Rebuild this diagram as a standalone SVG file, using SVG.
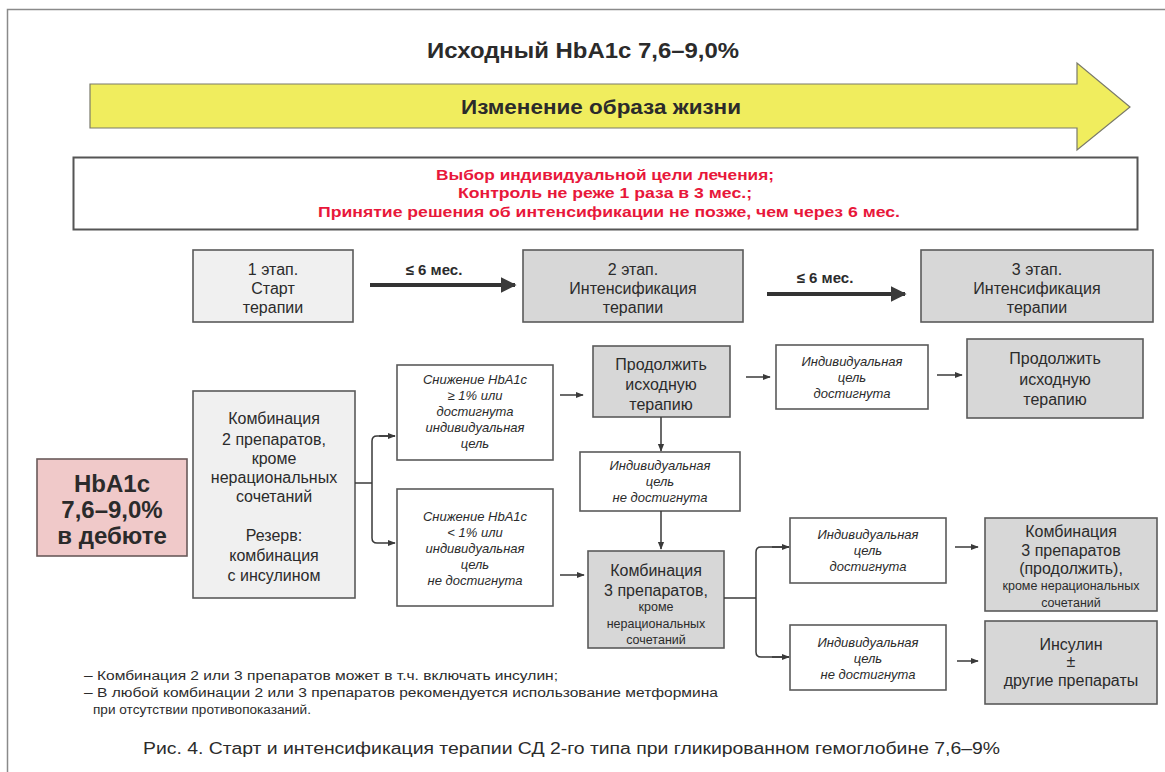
<svg xmlns="http://www.w3.org/2000/svg" width="1165" height="772" viewBox="0 0 1165 772">
<defs>
<marker id="ah" viewBox="0 0 10 10" refX="9" refY="5" markerWidth="8" markerHeight="8" markerUnits="userSpaceOnUse" orient="auto"><path d="M0,1 L10,5 L0,9 z" fill="#3a3a3a"/></marker>
<marker id="ahb" viewBox="0 0 10 10" refX="9" refY="5" markerWidth="4" markerHeight="4" orient="auto"><path d="M0,0 L10,5 L0,10 z" fill="#3a3a3a"/></marker>
</defs>
<style>
text{font-family:"Liberation Sans Narrow","Liberation Sans",Arial,sans-serif;fill:#2b2b2b;text-anchor:middle}
.b{stroke:#5a5a5a;stroke-width:1.6}
.w{fill:#ffffff}
.l{fill:#f0f0f0}
.g{fill:#d7d7d7}
.n{font-size:16px}
.i{font-size:13px;font-style:italic}
.s{font-size:12.5px}
.bd{font-weight:bold}
.red{fill:#e8173a;font-weight:bold;font-size:14px}
.c{fill:none;stroke:#3a3a3a;stroke-width:1.5}
.f{font-size:12.5px;text-anchor:start}
</style>
<rect x="0" y="0" width="1165" height="772" fill="#ffffff"/>
<rect x="7.5" y="9.5" width="1170" height="780" fill="none" stroke="#8a8a8a" stroke-width="1.5"/>

<g id="title"><text x="583" y="58" class="bd" font-size="22" textLength="312" lengthAdjust="spacingAndGlyphs">Исходный HbA1c 7,6–9,0%</text></g>

<g id="lifestyle">
<path d="M90,84 L1077,84 L1077,63 L1130,107 L1077,150 L1077,128 L90,128 Z" fill="#f0ed5e" stroke="#7a7a6a" stroke-width="1.2"/>
<text x="601" y="114" class="bd" font-size="20" textLength="280" lengthAdjust="spacingAndGlyphs">Изменение образа жизни</text>
</g>

<g id="goals">
<rect x="73.5" y="157.5" width="1064" height="72" fill="#ffffff" stroke="#555" stroke-width="2"/>
<text x="605" y="180" class="red" textLength="338" lengthAdjust="spacingAndGlyphs">Выбор индивидуальной цели лечения;</text>
<text x="605" y="198" class="red" textLength="294" lengthAdjust="spacingAndGlyphs">Контроль не реже 1 раза в 3 мес.;</text>
<text x="609" y="217" class="red" textLength="582" lengthAdjust="spacingAndGlyphs">Принятие решения об интенсификации не позже, чем через 6 мес.</text>
</g>

<g id="stage1">
<rect x="193" y="250" width="160" height="72" class="b l"/>
<text x="273" y="275" class="n">1 этап.</text>
<text x="273" y="294" class="n">Старт</text>
<text x="273" y="313" class="n">терапии</text>
</g>
<g id="stage2">
<rect x="523" y="250" width="220" height="72" class="b g"/>
<text x="633" y="275" class="n">2 этап.</text>
<text x="633" y="294" class="n">Интенсификация</text>
<text x="633" y="313" class="n">терапии</text>
</g>
<g id="stage3">
<rect x="921" y="250" width="232" height="72" class="b g"/>
<text x="1037" y="275" class="n">3 этап.</text>
<text x="1037" y="294" class="n">Интенсификация</text>
<text x="1037" y="313" class="n">терапии</text>
</g>

<g id="hba1c">
<rect x="37" y="459" width="150" height="97" fill="#f0c9c9" stroke="#6a5a5a" stroke-width="1.6"/>
<text x="112" y="492" class="bd" font-size="24">HbA1c</text>
<text x="112" y="518" class="bd" font-size="24">7,6–9,0%</text>
<text x="112" y="544" class="bd" font-size="24">в дебюте</text>
</g>

<g id="combo2">
<rect x="193" y="391" width="162" height="207" class="b l"/>
<text x="274" y="424" class="n">Комбинация</text>
<text x="274" y="445" class="n">2 препаратов,</text>
<text x="274" y="464" class="n">кроме</text>
<text x="274" y="483" class="n">нерациональных</text>
<text x="274" y="502" class="n">сочетаний</text>
<text x="274" y="541" class="n">Резерв:</text>
<text x="274" y="561" class="n">комбинация</text>
<text x="274" y="581" class="n">с инсулином</text>
</g>

<g id="dec1">
<rect x="397" y="365" width="156" height="95" class="b w"/>
<text x="475" y="384" class="i">Снижение HbA1c</text>
<text x="475" y="400" class="i">≥ 1% или</text>
<text x="475" y="416" class="i">достигнута</text>
<text x="475" y="432" class="i">индивидуальная</text>
<text x="475" y="448" class="i">цель</text>
</g>
<g id="dec2">
<rect x="397" y="489" width="156" height="117" class="b w"/>
<text x="475" y="521" class="i">Снижение HbA1c</text>
<text x="475" y="537" class="i">&lt; 1% или</text>
<text x="475" y="553" class="i">индивидуальная</text>
<text x="475" y="569" class="i">цель</text>
<text x="475" y="585" class="i">не достигнута</text>
</g>

<g id="cont1">
<rect x="593" y="346" width="137" height="71" class="b g"/>
<text x="661" y="370" class="n">Продолжить</text>
<text x="661" y="390" class="n">исходную</text>
<text x="661" y="410" class="n">терапию</text>
</g>
<g id="notreached1">
<rect x="580" y="452" width="160" height="59" class="b w"/>
<text x="660" y="470" class="i">Индивидуальная</text>
<text x="660" y="486" class="i">цель</text>
<text x="660" y="502" class="i">не достигнута</text>
</g>
<g id="combo3">
<rect x="588" y="551" width="136" height="97" class="b g"/>
<text x="656" y="576" class="n">Комбинация</text>
<text x="656" y="596" class="n">3 препаратов,</text>
<text x="656" y="611" class="s">кроме</text>
<text x="656" y="628" class="s">нерациональных</text>
<text x="656" y="644" class="s">сочетаний</text>
</g>

<g id="reached2">
<rect x="776" y="345" width="152" height="64" class="b w"/>
<text x="852" y="366" class="i">Индивидуальная</text>
<text x="852" y="382" class="i">цель</text>
<text x="852" y="398" class="i">достигнута</text>
</g>
<g id="cont2">
<rect x="967" y="339" width="176" height="79" class="b g"/>
<text x="1055" y="364" class="n">Продолжить</text>
<text x="1055" y="385" class="n">исходную</text>
<text x="1055" y="405" class="n">терапию</text>
</g>

<g id="reached3">
<rect x="790" y="518" width="156" height="65" class="b w"/>
<text x="868" y="539" class="i">Индивидуальная</text>
<text x="868" y="555" class="i">цель</text>
<text x="868" y="571" class="i">достигнута</text>
</g>
<g id="notreached3">
<rect x="790" y="625" width="156" height="65" class="b w"/>
<text x="868" y="647" class="i">Индивидуальная</text>
<text x="868" y="663" class="i">цель</text>
<text x="868" y="679" class="i">не достигнута</text>
</g>
<g id="combo3cont">
<rect x="985" y="518" width="172" height="93" class="b g"/>
<text x="1071" y="537" class="n">Комбинация</text>
<text x="1071" y="556" class="n">3 препаратов</text>
<text x="1071" y="574" class="n">(продолжить),</text>
<text x="1071" y="590" class="s">кроме нерациональных</text>
<text x="1071" y="607" class="s">сочетаний</text>
</g>
<g id="insulin">
<rect x="985" y="621" width="172" height="83" class="b g"/>
<text x="1071" y="650" class="n">Инсулин</text>
<text x="1071" y="667" class="n">±</text>
<text x="1071" y="686" class="n">другие препараты</text>
</g>

<g id="connectors">
<path d="M370,285 L515,285" fill="none" stroke="#333" stroke-width="4" marker-end="url(#ahb)"/>
<text x="434" y="275" class="bd" font-size="15">≤ 6 мес.</text>
<path d="M767,294 L905,294" fill="none" stroke="#333" stroke-width="4" marker-end="url(#ahb)"/>
<text x="825" y="283" class="bd" font-size="15">≤ 6 мес.</text>

<path d="M355,483 L372,483" class="c"/>
<path d="M395,436 L377,436 Q372,436 372,441 L372,538 Q372,543 377,543 L395,543" class="c" marker-end="url(#ah)"/>
<path d="M379,436 L395,436" class="c" marker-end="url(#ah)"/>
<path d="M560,395 L583,395" class="c" marker-end="url(#ah)"/>
<path d="M560,575 L584,575" class="c" marker-end="url(#ah)"/>
<path d="M661,417 L661,451" class="c" marker-end="url(#ah)"/>
<path d="M661,511 L661,549" class="c" marker-end="url(#ah)"/>
<path d="M746,377 L770,377" class="c" marker-end="url(#ah)"/>
<path d="M937,375 L962,375" class="c" marker-end="url(#ah)"/>
<path d="M724,598 L756,598" class="c"/>
<path d="M789,547 L761,547 Q756,547 756,552 L756,652 Q756,657 761,657 L789,657" class="c"/>
<path d="M772,547 L789,547" class="c" marker-end="url(#ah)"/>
<path d="M772,657 L789,657" class="c" marker-end="url(#ah)"/>
<path d="M955,547 L978,547" class="c" marker-end="url(#ah)"/>
<path d="M957,661 L978,661" class="c" marker-end="url(#ah)"/>
</g>

<g id="notes">
<text x="84" y="680" class="f" textLength="474" lengthAdjust="spacingAndGlyphs">– Комбинация 2 или 3 препаратов может в т.ч. включать инсулин;</text>
<text x="84" y="697" class="f" textLength="634" lengthAdjust="spacingAndGlyphs">– В любой комбинации 2 или 3 препаратов рекомендуется использование метформина</text>
<text x="93" y="714" class="f" textLength="218" lengthAdjust="spacingAndGlyphs">при отсутствии противопоказаний.</text>
</g>
<g id="caption">
<text x="143" y="754" font-size="16" style="text-anchor:start;font-family:'Liberation Sans',Arial,sans-serif" textLength="857" lengthAdjust="spacingAndGlyphs">Рис. 4. Старт и интенсификация терапии СД 2-го типа при гликированном гемоглобине 7,6–9%</text>
</g>
</svg>
